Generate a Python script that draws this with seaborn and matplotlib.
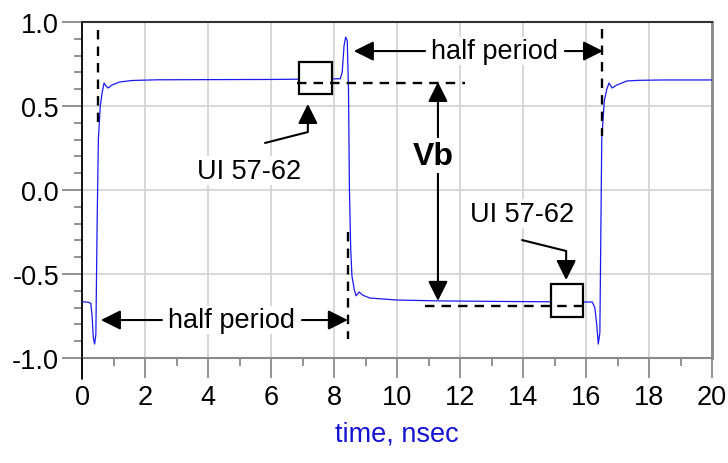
import matplotlib
matplotlib.use("Agg")
import matplotlib.pyplot as plt
from matplotlib.patches import Rectangle
from matplotlib.ticker import MultipleLocator, FixedLocator
import seaborn as sns
import pandas as pd

# ---------------- data ----------------
time_ns = [0.0, 0.2, 0.28, 0.32, 0.36, 0.40, 0.44, 0.48, 0.52, 0.58, 0.64, 0.70, 0.76, 0.83,
           0.95, 1.2, 1.6, 2.4, 4.0, 6.0, 8.2, 8.26, 8.32, 8.37, 8.42, 8.46, 8.49, 8.53,
           8.57, 8.64, 8.70, 8.80, 8.90, 9.14, 10.0, 11.3, 13.0, 16.2, 16.28, 16.34,
           16.39, 16.44, 16.50, 16.58, 16.66, 16.73, 16.83, 16.98, 17.3, 17.7, 18.5, 20.0]
voltage = [-0.665, -0.668, -0.675, -0.75, -0.88, -0.917, -0.86, -0.2, 0.30, 0.50, 0.58, 0.637,
           0.62, 0.607, 0.625, 0.643, 0.652, 0.656, 0.657, 0.658, 0.662, 0.70, 0.86, 0.91,
           0.89, 0.60, 0.0, -0.35, -0.512, -0.59, -0.63, -0.607, -0.625, -0.643, -0.655,
           -0.660, -0.663, -0.667, -0.70, -0.80, -0.917, -0.85, 0.30, 0.53, 0.60, 0.637,
           0.607, 0.625, 0.649, 0.653, 0.655, 0.655]

x_major = [0, 2, 4, 6, 8, 10, 12, 14, 16, 18, 20]
y_major = [-1.0, -0.5, 0.0, 0.5, 1.0]
y_labels = ["-1.0", "-0.5", "0.0", "0.5", "1.0"]
x_label = "time, nsec"
ui_label = "UI 57-62"
half_label = "half period"
vb_label = "Vb"

df = pd.DataFrame({"time": time_ns, "v": voltage})

# ---------------- style ----------------
sns.set_style("white")
plt.rcParams["font.family"] = ["Liberation Sans", "DejaVu Sans"]
plt.rcParams["text.color"] = "black"

fig = plt.figure(figsize=(7.28, 4.64), dpi=100)
ax = fig.add_axes([82 / 728, 1 - 359 / 464, 630 / 728, 336 / 464])

sns.lineplot(data=df, x="time", y="v", color="#1a1aee", linewidth=0.9, ax=ax, zorder=3)

ax.set_xlim(0, 20)
ax.set_ylim(-1.0, 1.0)
ax.xaxis.set_major_locator(FixedLocator(x_major))
ax.xaxis.set_minor_locator(MultipleLocator(1))
ax.yaxis.set_major_locator(FixedLocator(y_major))
ax.yaxis.set_minor_locator(MultipleLocator(0.1))
ax.set_xticklabels([str(v) for v in x_major])
ax.set_yticklabels(y_labels)
ax.grid(True, which="major", color="#d4d4d4", linewidth=1.3, zorder=0)
ax.set_axisbelow(True)
ax.tick_params(which="major", direction="out", length=14.5, width=1.3, color="#8a8a8a",
               labelsize=19.5, pad=2, left=True, bottom=True, labelcolor="black")
ax.tick_params(which="minor", direction="out", length=6, width=1.3, color="#8a8a8a",
               left=True, bottom=True)
ax.tick_params(axis="x", which="major", pad=4)
ax.set_xlabel(x_label, fontsize=19.5, color="#1414d2", labelpad=8)
ax.set_ylabel("")

for side, col, lw in [("left", "#000000", 1.3), ("bottom", "#8a8a8a", 1.5),
                      ("top", "#303030", 1.5), ("right", "#8a8a8a", 2.0)]:
    ax.spines[side].set_color(col)
    ax.spines[side].set_linewidth(lw)
ax.plot([0, 0], [0, -21 / 336], transform=ax.transAxes, color="black", lw=1.3,
        clip_on=False, zorder=5)

# ---------------- annotations ----------------
dash = dict(color="black", lw=1.7, linestyle=(0, (4, 3)), zorder=6)
# boxes (white filled, cover the trace)
ax.add_patch(Rectangle((6.89, 0.571), 1.05, 0.191, facecolor="white", edgecolor="black",
                       lw=1.6, zorder=4))
ax.add_patch(Rectangle((14.89, -0.756), 1.01, 0.196, facecolor="white", edgecolor="black",
                       lw=1.6, zorder=4))
# dashed reference lines
ax.plot([0.5, 0.5], [0.952, 0.405], **dash)
ax.plot([8.44, 8.44], [-0.25, -0.887], **dash)
ax.plot([16.5, 16.5], [0.96, 0.32], **dash)
ax.plot([6.83, 12.16], [0.637, 0.637], **dash)
ax.plot([10.9, 15.87], [-0.69, -0.69], **dash)

arr = dict(arrowstyle="-|>,head_length=0.6,head_width=0.3", mutation_scale=20,
           color="black", lw=1.5, shrinkA=0, shrinkB=0)
arr2 = dict(arrowstyle="<|-|>,head_length=0.6,head_width=0.3", mutation_scale=20,
            color="black", lw=1.5, shrinkA=0, shrinkB=0)
txt_box = dict(facecolor="white", edgecolor="none", pad=1)

# UI 57-62 (upper)
ax.plot([5.81, 7.17, 7.17], [0.280, 0.345, 0.40], color="black", lw=1.5, zorder=6)
ax.annotate("", xy=(7.17, 0.512), xytext=(7.17, 0.40), arrowprops=arr, zorder=6)
ax.text(5.3, 0.115, ui_label, fontsize=19.5, ha="center", va="center", bbox=txt_box, zorder=7)

# UI 57-62 (lower)
ax.plot([13.97, 15.37, 15.37], [-0.298, -0.363, -0.42], color="black", lw=1.5, zorder=6)
ax.annotate("", xy=(15.37, -0.536), xytext=(15.37, -0.42), arrowprops=arr, zorder=6)
ax.text(13.97, -0.14, ui_label, fontsize=19.5, ha="center", va="center", bbox=txt_box, zorder=7)

# Vb
ax.annotate("", xy=(11.3, 0.643), xytext=(11.3, -0.66), arrowprops=arr2, zorder=6)
ax.text(11.14, 0.205, vb_label, fontsize=23, fontweight="bold", ha="center", va="center",
        bbox=dict(facecolor="white", edgecolor="none", pad=2), zorder=7)

# half period (top)
ax.annotate("", xy=(8.63, 0.827), xytext=(10.89, 0.827), arrowprops=arr, zorder=6)
ax.annotate("", xy=(16.54, 0.827), xytext=(15.33, 0.827), arrowprops=arr, zorder=6)
ax.text(13.1, 0.827, half_label, fontsize=19.5, ha="center", va="center", bbox=txt_box, zorder=7)

# half period (bottom)
ax.annotate("", xy=(0.6, -0.774), xytext=(2.54, -0.774), arrowprops=arr, zorder=6)
ax.annotate("", xy=(8.44, -0.774), xytext=(6.98, -0.774), arrowprops=arr, zorder=6)
ax.text(4.76, -0.774, half_label, fontsize=19.5, ha="center", va="center", bbox=txt_box, zorder=7)

fig.savefig("out.png", dpi=100)
